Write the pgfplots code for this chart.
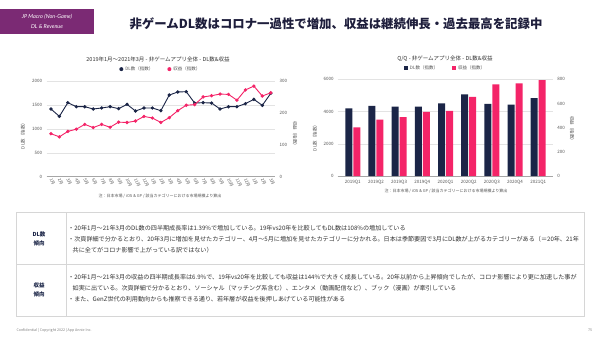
\documentclass[border=0pt]{standalone}
\usepackage{fontspec}
\setmainfont{Noto Sans CJK JP}
\newfontfamily\latofont{Lato}
\usepackage{pgfplots}
\pgfplotsset{compat=1.18}
\definecolor{navy}{HTML}{1B2547}
\definecolor{pinkc}{HTML}{F42468}
\definecolor{purp}{HTML}{7B2A74}
\definecolor{titlec}{HTML}{1E1E3C}
\definecolor{gridc}{HTML}{E3E3E3}
\definecolor{tickc}{HTML}{555555}
\definecolor{bodyc}{HTML}{333333}
\definecolor{linec}{HTML}{D6D6D6}
\newcommand{\fs}[1]{\fontsize{#1}{#1}\selectfont}
\pgfplotsset{
  base/.style={scale only axis, anchor=south west,
    axis line style={draw=none}, tick style={draw=none},
    ticklabel style={font=\fs{4.5}, text=tickc},
    /pgf/number format/assume math mode=true,
    /pgf/number format/1000 sep={}, scaled ticks=false, clip=false},
}
\begin{document}
\begin{tikzpicture}[x=1pt,y=1pt]
\path[fill=white] (0,0) rectangle (600,338);
% header box
\fill[purp] (0,304) rectangle (94,329);
\node[text=white, font=\latofont\itshape\fs{5.5}] at (47,321) {JP Macro (Non-Game)};
\node[text=white, font=\latofont\itshape\fs{5.5}] at (47,311) {DL \& Revenue};
\node[anchor=west, text=titlec, font=\bfseries\fs{12.4}] at (126,314) {非ゲームDL数はコロナ一過性で増加、収益は継続伸長・過去最高を記録中};

% ---------- left chart ----------
\node[font=\fs{5.5}, text=bodyc] at (158,279) {2019年1月～2021年3月 - 非ゲームアプリ全体 - DL数\&収益};
\node[font=\fs{4.5}, text=tickc, rotate=90] at (23,203) {DL数（指数）};
\node[font=\fs{4.5}, text=tickc, rotate=-90] at (295,203) {収益（指数）};
\node[font=\fs{4}, text=tickc] at (160,142.3) {注：日本市場 / iOS \& GP / 該当カテゴリーにおける市場規模より算出};

\begin{axis}[base, at={(46.7pt,161.3pt)}, width=228.3pt, height=95.7pt,
  xmin=-0.5, xmax=26.5, ymin=0, ymax=2000,
  ytick={0,500,1000,1500,2000}, ymajorgrids, grid style={gridc, line width=0.5pt},
  xtick={0,...,26},
  xticklabels={1月,2月,3月,4月,5月,6月,7月,8月,9月,10月,11月,12月,1月,2月,3月,4月,5月,6月,7月,8月,9月,10月,11月,12月,1月,2月,3月},
  x tick label style={rotate=-65, anchor=west, xshift=-1.5pt, yshift=-1pt, font=\fs{4.2}},
  yticklabel style={xshift=-1pt}]
\draw[gray!70, line width=0.6pt] (axis cs:-0.5,0) -- (axis cs:26.5,0);
\addplot[navy, line width=0.9pt, mark=*, mark size=1.2pt] coordinates {
(0,1415)(1,1261)(2,1547)(3,1463)(4,1463)(5,1415)(6,1436)(7,1463)(8,1422)(9,1512)
(10,1373)(11,1436)(12,1436)(13,1380)(14,1707)(15,1770)(16,1777)(17,1540)(18,1547)
(19,1540)(20,1415)(21,1463)(22,1463)(23,1526)(24,1617)(25,1491)(26,1742)};
\end{axis}
\begin{axis}[base, at={(46.7pt,161.3pt)}, width=228.3pt, height=95.7pt,
  xmin=-0.5, xmax=26.5, ymin=0, ymax=300, ytick={0,100,200,300},
  axis y line*=right, axis x line=none, yticklabel style={xshift=1pt},
  legend style={at={(0.5,1)}, anchor=south, yshift=7pt, draw=none, fill=none,
    font=\fs{4.5}, text=tickc, legend columns=2, inner sep=0pt,
    /tikz/every even column/.append style={column sep=12pt}},
  legend cell align=left,
  legend image code/.code={\fill[#1] (3pt,0pt) circle (2pt);}]
\addlegendimage{fill=navy, draw=none}
\addlegendentry{DL数（指数）}
\addlegendimage{fill=pinkc, draw=none}
\addlegendentry{収益（指数）}
\addplot[pinkc, line width=0.9pt, mark=*, mark size=1.2pt, forget plot] coordinates {
(0,134.8)(1,125)(2,142)(3,149)(4,164)(5,154)(6,164)(7,155)(8,171)(9,170)
(10,174.5)(11,189)(12,184)(13,170)(14,185)(15,207)(16,224)(17,226)(18,250)
(19,254)(20,259)(21,258)(22,240)(23,272)(24,284)(25,253)(26,263)};
\end{axis}

% ---------- right chart ----------
\node[font=\fs{5.5}, text=bodyc] at (445,279) {Q/Q - 非ゲームアプリ全体 - DL数\&収益};
\node[font=\fs{4.5}, text=tickc, rotate=90] at (315,201) {DL数（指数）};
\node[font=\fs{4.5}, text=tickc, rotate=-90] at (572,208) {収益（指数）};
\node[font=\fs{4}, text=tickc] at (446,147.3) {注：日本市場 / iOS \& GP / 該当カテゴリーにおける市場規模より算出};

\begin{axis}[base, at={(337.7pt,162pt)}, width=215.6pt, height=96.7pt,
  xmin=-0.65, xmax=8.65, ymin=0, ymax=6000,
  ytick={0,2000,4000,6000}, ymajorgrids, grid style={gridc, line width=0.5pt},
  xtick={0,...,8},
  xticklabels={2019Q1,2019Q2,2019Q3,2019Q4,2020Q1,2020Q2,2020Q3,2020Q4,2021Q1},
  x tick label style={yshift=-0.5pt},
  yticklabel style={xshift=-0.5pt}]
\draw[gray!70, line width=0.6pt] (axis cs:-0.65,0) -- (axis cs:8.65,0);
\addplot[ybar, bar width=7pt, bar shift=-4pt, fill=navy, draw=none] coordinates {
(0,4200)(1,4345)(2,4303)(3,4303)(4,4510)(5,5069)(6,4469)(7,4428)(8,4830)};
\end{axis}
\begin{axis}[base, at={(337.7pt,162pt)}, width=215.6pt, height=96.7pt,
  xmin=-0.65, xmax=8.65, ymin=0, ymax=800, ytick={0,200,400,600,800},
  axis y line*=right, axis x line=none, yticklabel style={xshift=0.5pt},
  legend style={at={(0.5,1)}, anchor=south, yshift=6pt, draw=none, fill=none,
    font=\fs{4.5}, text=tickc, legend columns=2, inner sep=0pt,
    /tikz/every even column/.append style={column sep=12pt}},
  legend cell align=left,
  legend image code/.code={\fill[#1] (1pt,-2pt) rectangle (5pt,2pt);}]
\addlegendimage{fill=navy, draw=none}
\addlegendentry{DL数（指数）}
\addlegendimage{fill=pinkc, draw=none}
\addlegendentry{収益（指数）}
\addplot[ybar, bar width=7pt, bar shift=4pt, fill=pinkc, draw=none, forget plot] coordinates {
(0,403)(1,466)(2,488)(3,530)(4,538)(5,654)(6,759)(7,767)(8,794)};
\end{axis}

% ---------- table ----------
\draw[linec, line width=0.6pt] (16,22) rectangle (584,126);
\draw[linec, line width=0.6pt] (66,22) -- (66,126);
\draw[linec, line width=0.6pt] (16,74) -- (584,74);
\node[align=center, text=navy, font=\bfseries\fontsize{5.5}{9}\selectfont] at (39,99.5) {DL数\\傾向};
\node[align=center, text=navy, font=\bfseries\fontsize{5.5}{9}\selectfont] at (39,48.5) {収益\\傾向};
\begin{scope}[every node/.style={anchor=west, text=bodyc, font=\fs{6.1}, inner sep=0pt}]
\node at (68,110) {・20年1月～21年3月のDL数の四半期成長率は1.39\%で増加している。19年vs20年を比較してもDL数は108\%の増加している};
\node at (68,98.5) {・次頁詳細で分かるとおり、20年3月に増加を見せたカテゴリー、4月～5月に増加を見せたカテゴリーに分かれる。日本は季節要因で3月にDL数が上がるカテゴリーがある（＝20年、21年};
\node at (72.5,88) {共に全てがコロナ影響で上がっている訳ではない）};
\node at (68,61) {・20年1月～21年3月の収益の四半期成長率は6.9\%で、19年vs20年を比較しても収益は144\%で大きく成長している。20年以前から上昇傾向でしたが、コロナ影響により更に加速した事が};
\node at (72.5,50) {如実に出ている。次頁詳細で分かるとおり、ソーシャル（マッチング系含む）、エンタメ（動画配信など）、ブック（漫画）が牽引している};
\node at (68,39) {・また、GenZ世代の利用動向からも推察できる通り、若年層が収益を後押しあげている可能性がある};
\end{scope}
% footer
\node[anchor=west, text=gray, font=\fs{3.6}] at (13,8) {Confidential | Copyright 2022 | App Annie Inc.};
\node[text=gray, font=\fs{3.6}] at (590,8) {75};
\end{tikzpicture}
\end{document}
